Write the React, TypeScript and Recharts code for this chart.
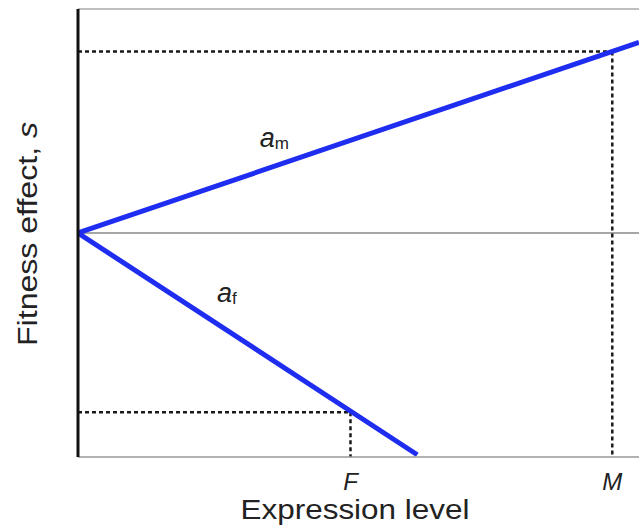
import { ComposedChart, Line, XAxis, YAxis, ReferenceLine, ReferenceDot } from 'recharts'

// expression level (x) vs fitness effect s (y)
const amLine = [
  { x: 0, s: 0 },
  { x: 10.5, s: 0.851 },
]
const afLine = [
  { x: 0, s: 0 },
  { x: 6.35, s: -0.99 },
]
const markerF = 5.1
const markerM = 10
const sAtF = -0.8
const sAtM = 0.81
const tickNames: Record<number, string> = { 5.1: 'F', 10: 'M' }
const slopeLabels = [
  { x: 3.4, s: 0.385, main: 'a', sub: 'm' },
  { x: 2.6, s: -0.31, main: 'a', sub: 'f' },
]

const FONT = '"Liberation Sans", Arial, Helvetica, sans-serif'
const BLUE = '#1f2df0'
const DOT = '#1a1a1a'

function XTick(props: any) {
  const { x, y, payload } = props
  return (
    <text x={x} y={y + 33} textAnchor="middle" fontFamily={FONT} fontSize={24} fontStyle="italic" fill="#222">
      {tickNames[payload.value]}
    </text>
  )
}

function SlopeLabel(main: string, sub: string) {
  return (props: any) => {
    const vb = props.viewBox || {}
    const x = vb.cx ?? vb.x
    const y = vb.cy ?? vb.y
    return (
      <text x={x} y={y} fontFamily={FONT} fill="#222">
        <tspan fontSize={27} fontStyle="italic">{main}</tspan>
        <tspan fontSize={17} dy={2}>{sub}</tspan>
      </text>
    )
  }
}

export default function App() {
  return (
    <div style={{ position: 'absolute', left: 0, top: 0, width: 639, height: 531, overflow: 'hidden', background: '#fff' }}>
      <ComposedChart width={639} height={531} margin={{ top: 9, right: 0, bottom: 0, left: 0 }}>
        <XAxis
          type="number"
          dataKey="x"
          domain={[0, 10.5]}
          ticks={[markerF, markerM]}
          tick={<XTick />}
          tickLine={false}
          tickSize={0}
          tickMargin={0}
          height={74}
          axisLine={{ stroke: '#999', strokeWidth: 1.5 }}
          allowDataOverflow
          label={{
            content: () => (
              <text x={355} y={519} textAnchor="middle" fontFamily={FONT} fontSize={27} fill="#222" textLength={229} lengthAdjust="spacingAndGlyphs">
                Expression level
              </text>
            ),
          }}
        />
        <YAxis
          type="number"
          domain={[-1, 1]}
          width={78}
          tick={false}
          tickLine={false}
          axisLine={{ stroke: '#111', strokeWidth: 3 }}
          allowDataOverflow
          label={{
            content: () => (
              <text
                x={28}
                y={234}
                transform="rotate(-90 28 234)"
                textAnchor="middle"
                dominantBaseline="central"
                fontFamily={FONT}
                fontSize={27}
                fill="#222"
                textLength={224}
                lengthAdjust="spacingAndGlyphs"
              >
                Fitness effect, <tspan fontStyle="italic">s</tspan>
              </text>
            ),
          }}
        />
        <ReferenceLine y={1} stroke="#aaa" strokeWidth={1.5} />
        <ReferenceLine y={0} stroke="#888" strokeWidth={1.5} />
        <ReferenceLine segment={[{ x: 0, y: sAtM }, { x: markerM, y: sAtM }]} stroke={DOT} strokeWidth={2.5} strokeDasharray="4 3" />
        <ReferenceLine segment={[{ x: markerM, y: sAtM }, { x: markerM, y: -1 }]} stroke={DOT} strokeWidth={2.5} strokeDasharray="4 3" />
        <ReferenceLine segment={[{ x: 0, y: sAtF }, { x: markerF, y: sAtF }]} stroke={DOT} strokeWidth={2.5} strokeDasharray="4 3" />
        <ReferenceLine segment={[{ x: markerF, y: sAtF }, { x: markerF, y: -1 }]} stroke={DOT} strokeWidth={2.5} strokeDasharray="4 3" />
        <Line data={amLine} dataKey="s" type="linear" stroke={BLUE} strokeWidth={5} dot={false} activeDot={false} isAnimationActive={false} />
        <Line data={afLine} dataKey="s" type="linear" stroke={BLUE} strokeWidth={5} dot={false} activeDot={false} isAnimationActive={false} />
        {slopeLabels.map((l) => (
          <ReferenceDot key={l.sub} x={l.x} y={l.s} r={0} fill="none" stroke="none" label={{ content: SlopeLabel(l.main, l.sub) }} />
        ))}
      </ComposedChart>
    </div>
  )
}
